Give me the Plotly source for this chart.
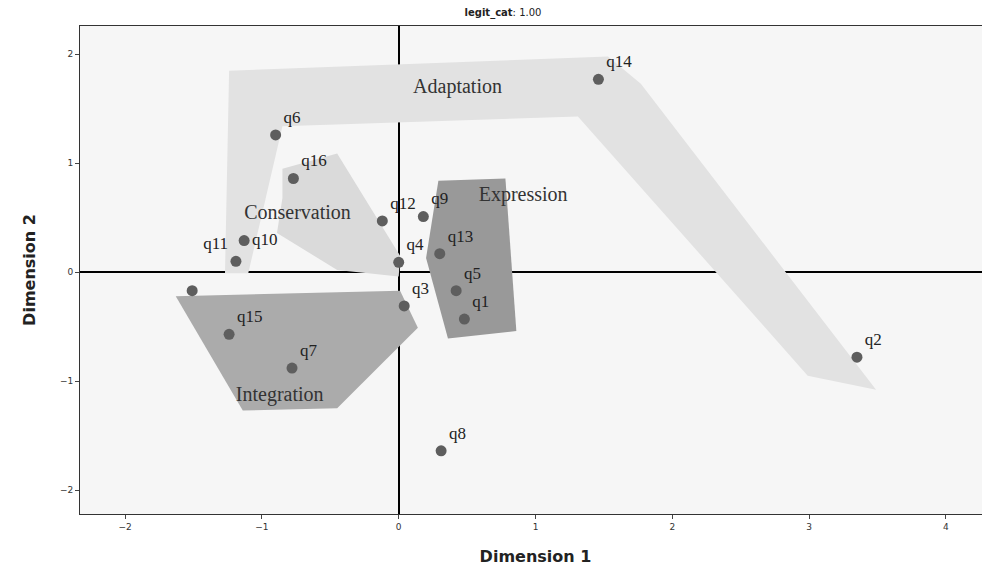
import plotly.graph_objects as go

# point coordinates (Dimension 1, Dimension 2)
labels = ["q14", "q6", "q16", "q12", "q9", "q10", "q11", "q4", "q13", "q5", "q1", "q3", "", "q15", "q7", "q8", "q2"]
dim1 = [1.46, -0.90, -0.77, -0.12, 0.18, -1.13, -1.19, 0.00, 0.30, 0.42, 0.48, 0.04, -1.51, -1.24, -0.78, 0.31, 3.35]
dim2 = [1.77, 1.26, 0.86, 0.47, 0.51, 0.29, 0.10, 0.09, 0.17, -0.17, -0.43, -0.31, -0.17, -0.57, -0.88, -1.64, -0.78]
label_pos = ["top right"] * 5 + ["middle right", "top left"] + ["top right"] * 10

# region outlines
adapt_x = [-1.24, 1.53, 1.77, 3.49, 2.99, 1.31, -0.85, -1.10, -1.27]
adapt_y = [1.85, 1.98, 1.73, -1.08, -0.95, 1.43, 1.34, -0.01, -0.01]
cons_x = [-0.85, -0.45, 0.01, 0.00, -0.45, -0.89, -0.85]
cons_y = [0.95, 1.09, 0.15, -0.04, 0.02, 0.36, 0.68]
expr_x = [0.29, 0.78, 0.86, 0.36, 0.20]
expr_y = [0.84, 0.86, -0.54, -0.61, 0.13]
integ_x = [-1.63, 0.01, 0.14, -0.45, -1.14]
integ_y = [-0.22, -0.17, -0.51, -1.25, -1.27]

region_names = ["Adaptation", "Conservation", "Expression", "Integration"]
region_x = [0.43, -0.74, 0.91, -0.87]
region_y = [1.69, 0.53, 0.70, -1.14]

fig = go.Figure()
for xs, ys, col in [(adapt_x, adapt_y, "#e2e2e2"), (cons_x, cons_y, "#dadada"),
                    (expr_x, expr_y, "#999999"), (integ_x, integ_y, "#ababab")]:
    fig.add_trace(go.Scatter(x=xs + xs[:1], y=ys + ys[:1], mode="lines", fill="toself",
                             fillcolor=col, line=dict(width=0), showlegend=False, hoverinfo="skip"))

fig.add_trace(go.Scatter(
    x=dim1, y=dim2, mode="markers+text", text=labels, textposition=label_pos,
    textfont=dict(family="Liberation Serif", size=17, color="#222"),
    marker=dict(size=11, color="#5e5e5e"), showlegend=False))

fig.add_trace(go.Scatter(
    x=region_x, y=region_y, mode="text", text=region_names,
    textfont=dict(family="Liberation Serif", size=20, color="#333"), showlegend=False))

ax = dict(showgrid=False, zeroline=True, zerolinecolor="black", zerolinewidth=2,
          showline=True, linecolor="#333", mirror=True, ticks="outside", ticklen=4,
          tickfont=dict(family="DejaVu Sans", size=9, color="#333"), automargin=False)
fig.update_layout(
    width=990, height=581, paper_bgcolor="white", plot_bgcolor="#f6f6f6",
    margin=dict(l=72, r=7, t=18, b=75),
    title=dict(text="<b>legit_cat</b>: 1.00", x=0.5, y=0.998, yanchor="top",
               font=dict(family="DejaVu Sans", size=10, color="#222")),
    xaxis=dict(range=[-2.33, 4.33], dtick=1, title=dict(text="<b>Dimension 1</b>", standoff=20,
               font=dict(family="DejaVu Sans", size=16, color="#222")), **ax),
    yaxis=dict(range=[-2.22, 2.26], dtick=1, title=dict(text="<b>Dimension 2</b>", standoff=20,
               font=dict(family="DejaVu Sans", size=16, color="#222")), **ax),
)
fig.write_html("out.html")
